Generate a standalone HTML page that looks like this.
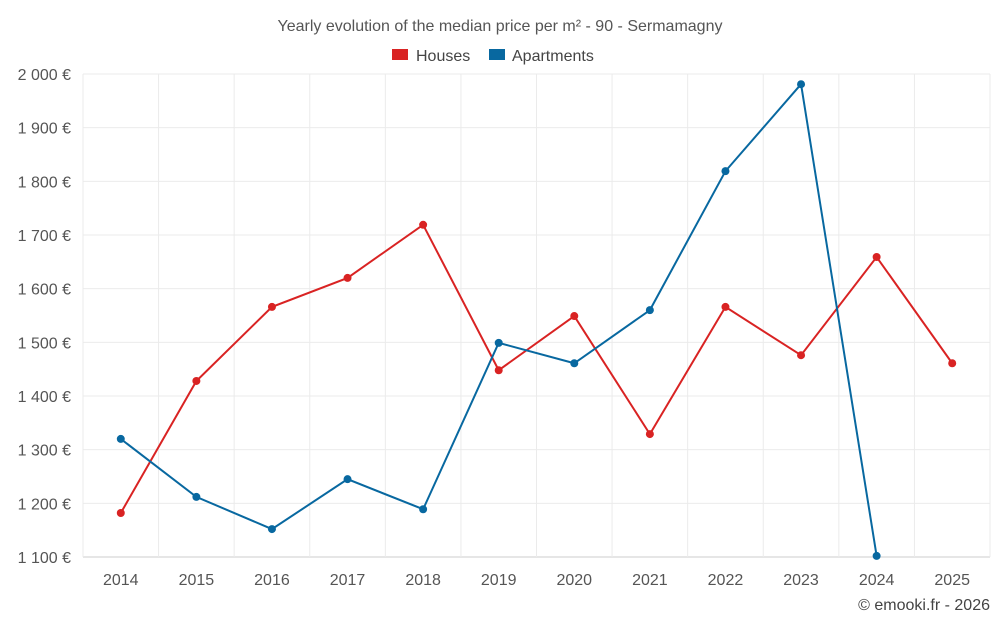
<!DOCTYPE html>
<html><head><meta charset="utf-8"><style>
body{margin:0;background:#fff;font-family:"Liberation Sans",sans-serif;}
svg text{font-family:"Liberation Sans",sans-serif;}
</style></head><body>
<svg id="chart" width="1000" height="625">
<text x="500" y="31" text-anchor="middle" font-size="16" fill="#555">Yearly evolution of the median price per m² - 90 - Sermamagny</text>
<g>
<g><rect x="392" y="49" width="16" height="11" fill="#d92323"/><text x="416" y="61" font-size="16" fill="#444">Houses</text></g>
<g><rect x="489" y="49" width="16" height="11" fill="#0868a0"/><text x="512" y="61" font-size="16" fill="#444">Apartments</text></g>
</g>
<g id="grid"></g><g id="axes"></g><g id="series"></g>
<text x="990" y="610" text-anchor="end" font-size="16" fill="#444">© emooki.fr - 2026</text>
</svg>
<script>
const years=[2014,2015,2016,2017,2018,2019,2020,2021,2022,2023,2024,2025];
const houses=[1182,1428,1566,1620,1719,1448,1549,1329,1566,1476,1659,1461];
const apartments=[1320,1212,1152,1245,1189,1499,1461,1560,1819,1981,1102,null];
const yTicks=[1100,1200,1300,1400,1500,1600,1700,1800,1900,2000];
const ns="http://www.w3.org/2000/svg";
const L=83,R=990,T=74,B=557,yMin=1100,yMax=2000;
const bw=(R-L)/years.length;
const xs=i=>L+bw*(i+0.5);
const ys=v=>B-(v-yMin)/(yMax-yMin)*(B-T);
function mk(tag,attrs,parent){const e=document.createElementNS(ns,tag);for(const k in attrs)e.setAttribute(k,attrs[k]);parent.appendChild(e);return e;}
const grid=document.getElementById('grid'),axes=document.getElementById('axes'),ser=document.getElementById('series');
yTicks.forEach(v=>{
 const l=mk('line',{x1:L,x2:R,y1:ys(v),y2:ys(v),stroke:v===yMin?'#ccc':'#ebebeb'},grid);
 
 
 const t=mk('text',{x:L-12,y:ys(v)+6,'text-anchor':'end','font-size':16,fill:'#555'},axes);
 t.textContent=(v>=1000?Math.floor(v/1000)+' '+String(v%1000).padStart(3,'0'):v)+' €';
 
 
});
for(let i=0;i<=years.length;i++){
 const l=mk('line',{x1:L+bw*i,x2:L+bw*i,y1:T,y2:B,stroke:'#ebebeb'},grid);
 
 
}
years.forEach((y,i)=>{
 const t=mk('text',{x:xs(i),y:585,'text-anchor':'middle','font-size':16,fill:'#555'},axes);
 t.textContent=y;
 
 
});
function draw(data,color,name){
 const pts=[];data.forEach((v,i)=>{if(v!=null)pts.push([xs(i),ys(v)]);});
 const p=mk('polyline',{points:pts.map(p=>p.join(',')).join(' '),fill:'none',stroke:color,'stroke-width':2},ser);
 
 
 pts.forEach(q=>{
  const c=mk('circle',{cx:q[0],cy:q[1],r:4,fill:color},ser);
  
  
 });
}
draw(houses,'#d92323','houses');
draw(apartments,'#0868a0','apartments');
</script>
</body></html>
